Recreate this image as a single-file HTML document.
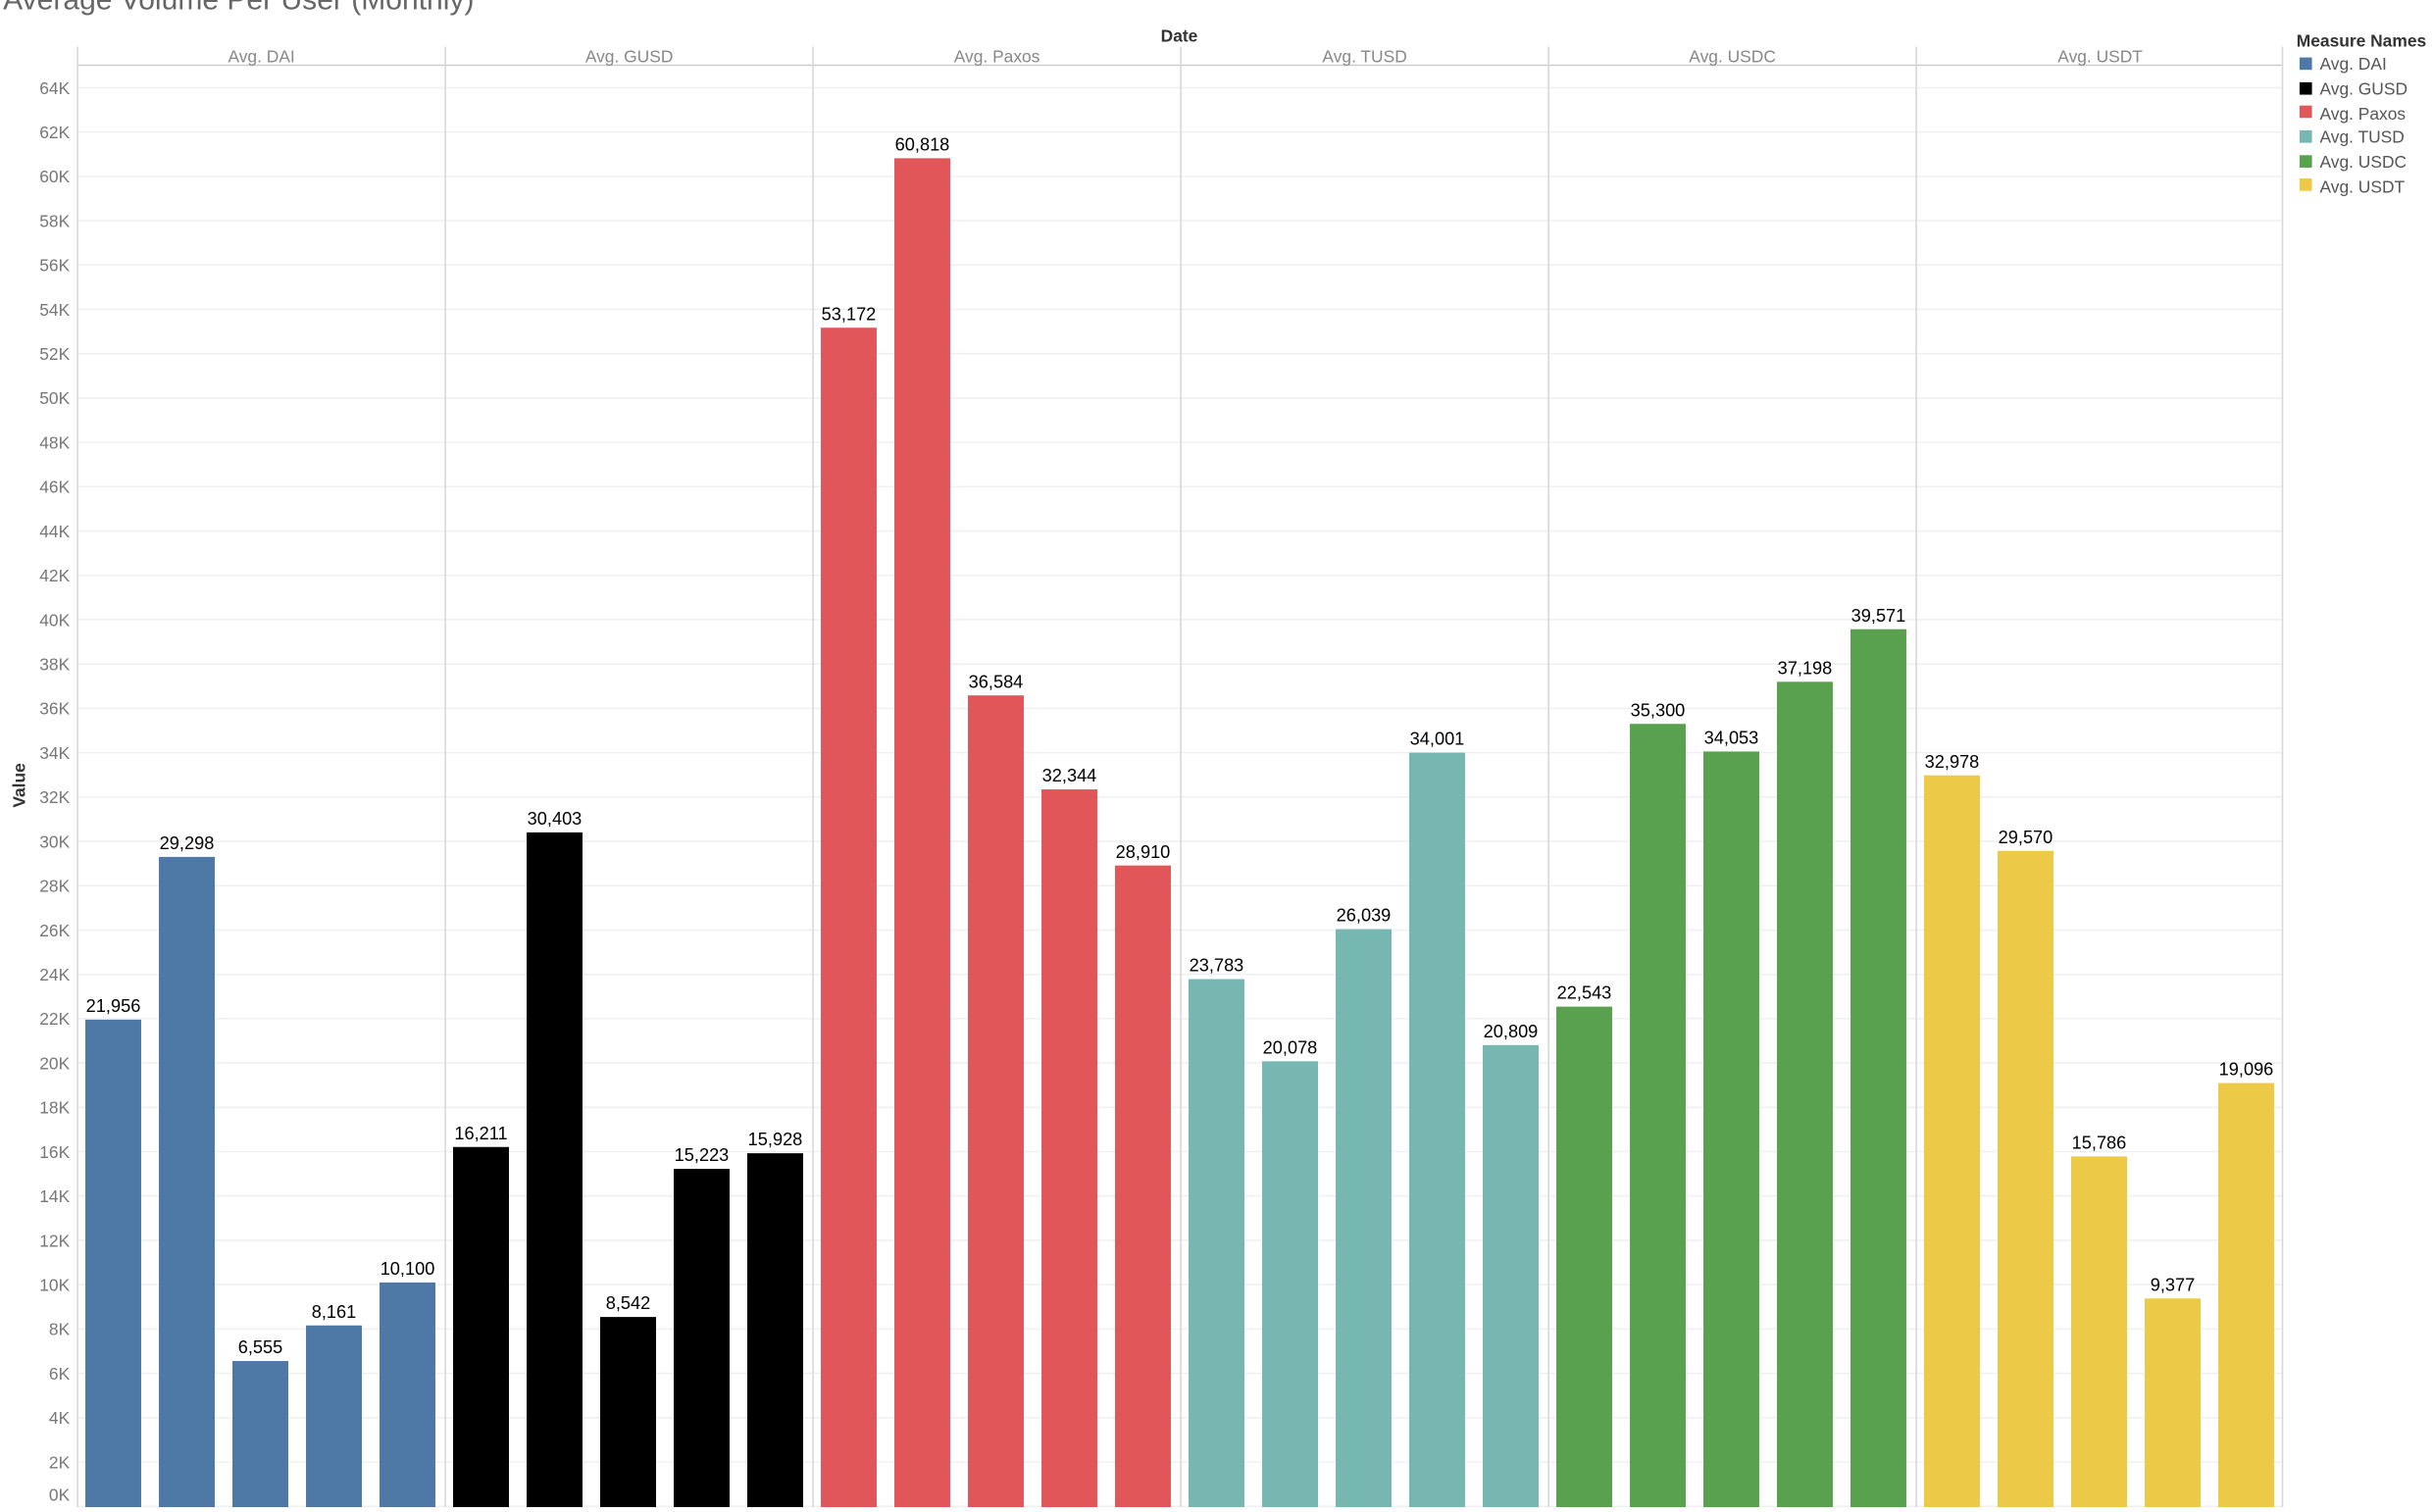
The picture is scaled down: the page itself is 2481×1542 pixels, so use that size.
<!DOCTYPE html>
<html><head><style>html,body{margin:0;padding:0;background:#fff;overflow:hidden}</style></head>
<body>
<svg width="2481" height="1537" viewBox="0 0 1568 971" preserveAspectRatio="none" xmlns="http://www.w3.org/2000/svg" font-family="Liberation Sans, sans-serif">
<rect width="1568" height="971" fill="#fff"/>
<text x="2" y="6" font-size="19" fill="#666">Average Volume Per User (Monthly)</text>
<text x="760" y="27" font-size="11" text-anchor="middle" fill="#333" font-weight="bold">Date</text>
<text x="16" y="506" font-size="11" fill="#333" font-weight="bold" text-anchor="middle" transform="rotate(-90 16 506)">Value</text>
<g id="grid"></g>
<g id="bars"></g>
<g font-size="11" fill="#333">
<text x="1480" y="30" font-weight="bold">Measure Names</text>
<rect x="1482" y="37" width="8" height="8" fill="#4e79a7"/><text x="1495" y="45" fill="#555">Avg. DAI</text>
<rect x="1482" y="53" width="8" height="8" fill="#000"/><text x="1495" y="61" fill="#555">Avg. GUSD</text>
<rect x="1482" y="68" width="8" height="8" fill="#e15759"/><text x="1495" y="77" fill="#555">Avg. Paxos</text>
<rect x="1482" y="84" width="8" height="8" fill="#76b7b2"/><text x="1495" y="92" fill="#555">Avg. TUSD</text>
<rect x="1482" y="100" width="8" height="8" fill="#59a14f"/><text x="1495" y="108" fill="#555">Avg. USDC</text>
<rect x="1482" y="115" width="8" height="8" fill="#edc948"/><text x="1495" y="124" fill="#555">Avg. USDT</text>
</g>
<script>
const ns="http://www.w3.org/2000/svg";
function el(p,t,a,txt){const e=document.createElementNS(ns,t);for(const k in a)e.setAttribute(k,a[k]);if(txt!=null)e.textContent=txt;p.appendChild(e);return e;}
const g=document.getElementById('grid'),b=document.getElementById('bars');
const Y=v=>970.5-v*914/64000;
for(let k=0;k<=64;k+=2){const y=Y(k*1000);el(g,'line',{x1:50,x2:1471,y1:y,y2:y,stroke:'#f0f0f0','stroke-width':1});
el(g,'text',{x:45,y:(k==0?967:y+4),'font-size':11,fill:'#777','text-anchor':'end'},k+'K');}
const px=[50,287,524,761,998,1235,1471];
el(g,'line',{x1:50,x2:1471,y1:42,y2:42,stroke:'#ccc'});
px.forEach(x=>el(g,'line',{x1:x,x2:x,y1:30,y2:971,stroke:'#d8d8d8'}));
const names=['Avg. DAI','Avg. GUSD','Avg. Paxos','Avg. TUSD','Avg. USDC','Avg. USDT'];
const cols=['#4e79a7','#000000','#e15759','#76b7b2','#59a14f','#edc948'];
const data=[[21956,29298,6555,8161,10100],[16211,30403,8542,15223,15928],[53172,60818,36584,32344,28910],[23783,20078,26039,34001,20809],[22543,35300,34053,37198,39571],[32978,29570,15786,9377,19096]];
data.forEach((d,i)=>{el(g,'text',{x:px[i]+118.5,y:40,'font-size':11,fill:'#888','text-anchor':'middle'},names[i]);
d.forEach((v,j)=>{const x=px[i]+5+j*47.4,y=Y(v);el(b,'rect',{x:x,y:y,width:36,height:971-y,fill:cols[i]});
el(b,'text',{x:x+18,y:y-5,'font-size':11.5,fill:'#000','text-anchor':'middle'},v.toLocaleString('en-US'));});});
</script>
</svg>
</body></html>
